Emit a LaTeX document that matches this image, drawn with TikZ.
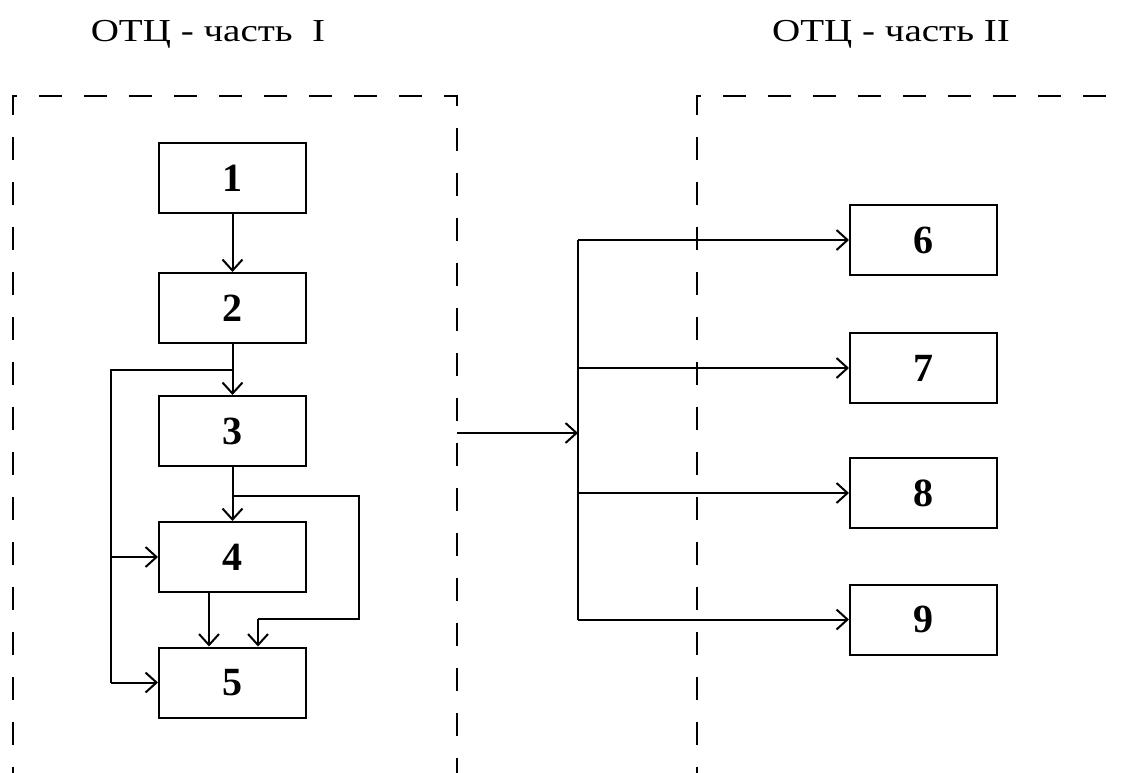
\documentclass[tikz,border=0pt]{standalone}
\usepackage{fontspec}
\setmainfont{Liberation Serif}
\usetikzlibrary{arrows.meta}
\tikzset{
  blk/.style={draw, line width=2pt, minimum width=147pt, minimum height=70pt, inner sep=0pt,
    font=\fontsize{40}{44}\selectfont\bfseries},
  conn/.style={line width=2pt},
  arr/.style={conn, -{Straight Barb[length=11pt,width=20pt,line width=2pt]}},
  frame/.style={line width=2pt, dash pattern=on 23pt off 22pt},
  ttl/.style={font=\fontsize{32}{36}\selectfont, inner sep=0pt}
}
\begin{document}
\begin{tikzpicture}[x=1pt,y=-1pt]
\useasboundingbox (0,0) rectangle (1125,772);
% titles
\node[ttl] (t1) at (208,34) {\scalebox{1.22}[1]{ОТЦ - часть\ \ I}};
\node[ttl] (t2) at (891,34) {\scalebox{1.22}[1]{ОТЦ - часть II}};
% dashed frames
\draw[frame] (13,790) -- (13,96) -- (457,96) -- (457,790);
\draw[frame] (697,790) -- (697,96) -- (1150,96);
% blocks
\node[blk] (b1) at (232.5,178) {1};
\node[blk] (b2) at (232.5,308) {2};
\node[blk] (b3) at (232.5,431) {3};
\node[blk] (b4) at (232.5,557) {4};
\node[blk] (b5) at (232.5,682.5) {5};
\node[blk] (b6) at (923.5,240) {6};
\node[blk] (b7) at (923.5,368) {7};
\node[blk] (b8) at (923.5,493) {8};
\node[blk] (b9) at (923.5,619.5) {9};
% coordinates
\coordinate (s23) at (232.5,370);
\coordinate (lft) at (111,370);
\coordinate (s34) at (232.5,496);
\coordinate (rgt) at (359,496);
\coordinate (in5) at (258,619);
\coordinate (out1) at (457,433);
\coordinate (bus) at (578,433);
\coordinate (bustop) at (578,240);
\coordinate (busbot) at (578,619.5);
% left part connectors
\draw[arr] (b1) -- (b2);
\draw[arr] (b2) -- (b3);
\draw[conn] (s23) -- (lft) -- (lft |- b5.west);
\draw[arr] (lft |- b4.west) -- (b4.west);
\draw[arr] (lft |- b5.west) -- (b5.west);
\draw[arr] (b3) -- (b4);
\draw[conn] (s34) -- (rgt) -- (rgt |- in5) -- (in5);
\draw[arr] (in5) -- (in5 |- b5.north);
\draw[arr] ([xshift=-23.5pt]b4.south) -- ([xshift=-23.5pt]b5.north);
% central connectors
\draw[arr] (out1) -- (bus);
\draw[conn] (bustop) -- (busbot);
\draw[arr] (bustop) -- (b6.west);
\draw[arr] (bus |- b7.west) -- (b7.west);
\draw[arr] (bus |- b8.west) -- (b8.west);
\draw[arr] (busbot) -- (b9.west);
\end{tikzpicture}
\end{document}
